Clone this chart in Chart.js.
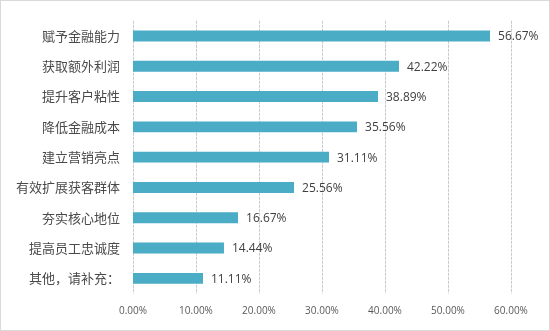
<!DOCTYPE html>
<html>
<head>
<meta charset="utf-8">
<script src="https://cdn.jsdelivr.net/npm/chart.js@4/dist/chart.umd.min.js"></script>
<style>
html,body{margin:0;padding:0;background:#fff;}
#wrap{width:550px;height:331px;position:relative;}
</style>
</head>
<body>
<div id="wrap"><canvas id="c" width="550" height="331"></canvas></div>
<script>
const categories = ['赋予金融能力','获取额外利润','提升客户粘性','降低金融成本','建立营销亮点','有效扩展获客群体','夯实核心地位','提高员工忠诚度','其他，请补充：'];
const values = [56.67, 42.22, 38.89, 35.56, 31.11, 25.56, 16.67, 14.44, 11.11];
const xTicks = [0, 10, 20, 30, 40, 50, 60];

const frame = {
  id: 'frame',
  beforeDraw(chart) {
    const ctx = chart.ctx;
    ctx.save();
    ctx.fillStyle = '#fff';
    ctx.fillRect(0, 0, chart.width, chart.height);
    ctx.strokeStyle = '#d9d9d9';
    ctx.lineWidth = 1;
    ctx.strokeRect(0.5, 0.5, chart.width - 1, chart.height - 1);
    ctx.restore();
  }
};

const dashedGrid = {
  id: 'dashedGrid',
  beforeDatasetsDraw(chart) {
    const ctx = chart.ctx;
    const xs = chart.scales.x;
    const area = chart.chartArea;
    ctx.save();
    ctx.strokeStyle = '#c9c9c9';
    ctx.lineWidth = 1;
    ctx.setLineDash([3, 1]);
    xTicks.forEach(v => {
      const x = Math.round(xs.getPixelForValue(v)) + 0.5;
      ctx.beginPath();
      ctx.moveTo(x, area.top);
      ctx.lineTo(x, area.bottom);
      ctx.stroke();
    });
    ctx.restore();
  }
};

const dataLabels = {
  id: 'dataLabels',
  afterDatasetsDraw(chart) {
    const ctx = chart.ctx;
    const meta = chart.getDatasetMeta(0);
    ctx.save();
    ctx.font = '12px "Open Sans", "Noto Sans", sans-serif';
    ctx.fillStyle = '#404040';
    ctx.textAlign = 'left';
    ctx.textBaseline = 'middle';
    meta.data.forEach((bar, i) => {
      ctx.fillText(values[i].toFixed(2) + '%', bar.x + 8, bar.y + 1);
    });
    ctx.restore();
  }
};

new Chart(document.getElementById('c'), {
  type: 'bar',
  data: {
    labels: categories,
    datasets: [{
      data: values,
      backgroundColor: '#4BACC6',
      borderWidth: 0,
      barPercentage: 0.36,
      categoryPercentage: 1.0
    }]
  },
  options: {
    indexAxis: 'y',
    responsive: false,
    animation: false,
    layout: { padding: { left: 0, right: 39, top: 10, bottom: 1.5 } },
    plugins: { legend: { display: false }, tooltip: { enabled: false } },
    scales: {
      x: {
        min: 0, max: 60,
        afterBuildTicks(scale) { scale.ticks = xTicks.map(v => ({ value: v })); },
        ticks: {
          callback: v => Number(v).toFixed(2) + '%',
          color: '#595959',
          font: { family: '"Open Sans", "Noto Sans", sans-serif', size: 10 },
          padding: 12,
          maxRotation: 0
        },
        grid: { display: false, drawTicks: false },
        border: { display: false }
      },
      y: {
        afterFit(scale) { scale.width = 133; },
        ticks: {
          color: '#4a4a4a',
          font: { family: '"Noto Sans CJK SC", sans-serif', size: 13 },
          padding: 13
        },
        grid: { display: false, drawTicks: false },
        border: { display: false }
      }
    }
  },
  plugins: [frame, dashedGrid, dataLabels]
});
</script>
</body>
</html>
